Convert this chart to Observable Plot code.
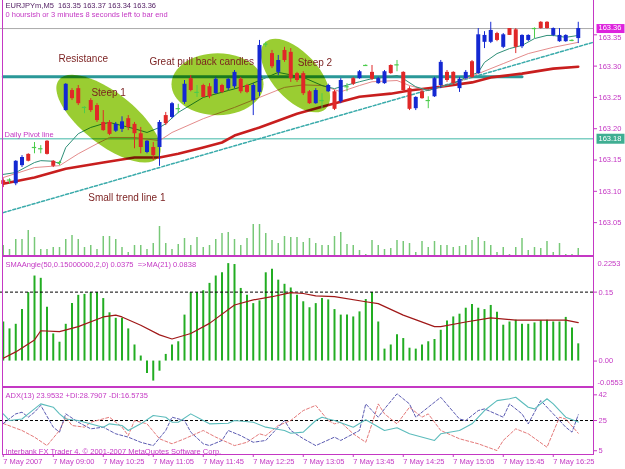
<!DOCTYPE html>
<html><head><meta charset="utf-8">
<script src="https://cdn.jsdelivr.net/npm/d3@7"></script>
<script src="https://cdn.jsdelivr.net/npm/@observablehq/plot@0.6"></script>
<style>
html,body{margin:0;padding:0;background:#fff;}
#chart{position:relative;width:625px;height:469px;overflow:hidden;}
#chart .layer{position:absolute;left:0;}
#chart .hl{position:absolute;background:#c438c4;}
</style></head><body><div id="chart"></div>
<script>
// ---------- DATA ----------
const opens  = [163.117,163.118,163.112,163.141,163.159,163.170,163.168,163.180,163.148,163.146,163.229,163.261,163.264,163.234,163.245,163.237,163.210,163.210,163.196,163.199,163.216,163.207,163.192,163.162,163.170,163.170,163.221,163.218,163.232,163.242,163.280,163.258,163.269,163.267,163.256,163.269,163.264,163.267,163.279,163.269,163.245,163.258,163.335,163.320,163.290,163.325,163.322,163.288,163.288,163.259,163.240,163.245,163.259,163.259,163.243,163.267,163.280,163.280,163.301,163.290,163.272,163.272,163.301,163.302,163.290,163.264,163.232,163.259,163.245,163.251,163.269,163.290,163.290,163.264,163.280,163.307,163.288,163.338,163.338,163.352,163.330,163.360,163.358,163.331,163.341,163.360,163.370,163.370,163.349,163.339,163.339,163.341,163.344];
const highs  = [163.120,163.120,163.149,163.157,163.160,163.178,163.173,163.181,163.149,163.148,163.272,163.264,163.269,163.235,163.248,163.240,163.229,163.213,163.210,163.219,163.221,163.210,163.202,163.181,163.178,163.213,163.226,163.242,163.239,163.277,163.285,163.269,163.271,163.272,163.282,163.271,163.280,163.293,163.282,163.271,163.272,163.341,163.338,163.325,163.317,163.330,163.328,163.290,163.291,163.261,163.264,163.256,163.271,163.261,163.280,163.272,163.282,163.293,163.302,163.301,163.282,163.293,163.302,163.309,163.291,163.267,163.251,163.261,163.251,163.282,163.309,163.293,163.291,163.282,163.293,163.309,163.360,163.355,163.370,163.354,163.352,163.360,163.360,163.350,163.350,163.361,163.371,163.371,163.361,163.360,163.350,163.342,163.370];
const lows   = [163.106,163.112,163.109,163.138,163.147,163.160,163.160,163.158,163.138,163.141,163.228,163.245,163.237,163.224,163.226,163.210,163.196,163.189,163.194,163.194,163.197,163.168,163.160,163.160,163.149,163.140,163.205,163.216,163.224,163.239,163.259,163.250,163.250,163.248,163.255,163.256,163.261,163.264,163.256,163.256,163.221,163.251,163.330,163.296,163.285,163.306,163.274,163.274,163.253,163.239,163.239,163.232,163.258,163.229,163.240,163.259,163.269,163.279,163.300,163.277,163.271,163.271,163.287,163.291,163.258,163.229,163.229,163.247,163.232,163.250,163.264,163.274,163.271,163.258,163.279,163.280,163.287,163.328,163.336,163.339,163.328,163.349,163.320,163.328,163.339,163.344,163.359,163.359,163.347,163.338,163.338,163.339,163.336];
const closes = [163.111,163.118,163.148,163.154,163.148,163.170,163.168,163.159,163.140,163.146,163.271,163.248,163.240,163.234,163.229,163.213,163.197,163.191,163.207,163.211,163.202,163.192,163.170,163.180,163.157,163.210,163.208,163.240,163.232,163.271,163.261,163.258,163.250,163.251,163.279,163.258,163.279,163.290,163.259,163.258,163.269,163.333,163.335,163.299,163.309,163.309,163.280,163.277,163.256,163.240,163.261,163.245,163.269,163.231,163.277,163.267,163.271,163.291,163.301,163.279,163.280,163.291,163.288,163.302,163.261,163.231,163.250,163.248,163.245,163.280,163.306,163.277,163.272,163.279,163.290,163.282,163.350,163.349,163.357,163.341,163.350,163.349,163.330,163.349,163.349,163.360,163.360,163.360,163.360,163.349,163.349,163.341,163.360];
const volumes = [10,6,16,16,25,18,6,6,8,8,16,20,16,8,10,6,19,19,16,8,3,10,10,6,12,29,12,6,11,17,10,18,8,10,16,22,23,16,10,17,31,31,22,15,12,19,18,18,13,17,12,10,10,19,23,11,10,5,1,15,10,6,7,15,14,12,3,14,8,14,10,10,8,9,10,15,18,14,10,3,8,1,8,17,5,8,7,14,3,12,1,1,7];
const maSlow = [[0,163.112],[5,163.122],[10,163.136],[16,163.146],[21,163.154],[25,163.154],[28,163.160],[32,163.170],[35,163.178],[37,163.189],[41,163.202],[47,163.224],[51,163.235],[54,163.243],[57,163.251],[62,163.256],[65,163.261],[70,163.267],[75,163.274],[78,163.282],[83,163.288],[88,163.296],[92,163.299]];
const maMid = [[0,163.122],[5,163.138],[9,163.141],[12,163.160],[15,163.176],[17,163.186],[21,163.186],[25,163.181],[27,163.194],[32,163.216],[37,163.234],[41,163.250],[45,163.266],[48,163.270],[51,163.269],[54,163.259],[57,163.269],[59,163.275],[63,163.277],[65,163.269],[68,163.261],[70,163.267],[72,163.272],[76,163.288],[80,163.304],[84,163.320],[88,163.330],[92,163.338]];
const maFast = [[0,163.127],[2,163.130],[5,163.146],[6,163.149],[8,163.148],[9,163.144],[10,163.170],[12,163.192],[14,163.202],[16,163.208],[17,163.210],[21,163.200],[23,163.194],[25,163.202],[26,163.208],[28,163.226],[32,163.250],[36,163.261],[39,163.269],[41,163.277],[44,163.290],[48,163.282],[51,163.269],[53,163.264],[54,163.267],[57,163.275],[59,163.280],[62,163.283],[63,163.285],[64,163.280],[66,163.267],[68,163.261],[70,163.267],[72,163.272],[74,163.282],[76,163.290],[77,163.306],[79,163.320],[81,163.328],[83,163.333],[85,163.344],[87,163.349],[88,163.349],[90,163.346],[92,163.349]];
const trendLine = [[0,163.066],[94.4,163.338]];
const resistance = [[0,163.283],[83,163.283]];
const pivot = 163.184;
const lastPrice = 163.36;
const priceTicks = [163.05,163.10,163.15,163.20,163.25,163.30];
const topPriceTick = 163.35;
const ellipses = [{i:16.84,p:163.216},{i:34.28,p:163.271},{i:46.76,p:163.285}];
const notes = [
  {i:8.84, p:163.312, t:"Resistance"},
  {i:14.1, p:163.258, t:"Steep 1"},
  {i:23.4, p:163.307, t:"Great pull back candles"},
  {i:47.1, p:163.306, t:"Steep 2"},
  {i:13.6, p:163.090, t:"Small trend line 1"}
];
const pivotNote = {i:0.2, p:163.191, t:"Daily Pivot line"};
const smaAngle = [.085,.070,.080,.112,.149,.185,.180,.117,.059,.041,.080,.125,.143,.145,.149,.149,.136,.105,.093,.093,.070,.035,.011,-.027,-.0435,-.022,.0145,.035,.042,.100,.149,.149,.153,.169,.185,.192,.212,.210,.158,.143,.125,.131,.192,.200,.176,.167,.159,.143,.129,.116,.125,.136,.133,.112,.100,.100,.096,.107,.134,.149,.085,.026,.035,.057,.049,.028,.026,.035,.042,.047,.067,.087,.096,.102,.115,.123,.115,.112,.121,.106,.078,.085,.089,.080,.080,.083,.088,.089,.085,.085,.095,.072,.0375];
const smaMA = [[0,.006],[2,.020],[5,.046],[6,.066],[9,.064],[12,.075],[16,.096],[18,.100],[19,.096],[22,.078],[25,.057],[27,.048],[30,.060],[33,.082],[37,.122],[40,.133],[43,.140],[46,.149],[48,.147],[50,.142],[53,.140],[58,.129],[60,.125],[64,.100],[69,.075],[70,.075],[74,.085],[78,.094],[82,.089],[90,.089],[92,.0838]];
const smaLevel = 0.15;
const smaTicks = [0.15, 0];
const adx = [[0,29.4],[1,25],[3,26],[4,29.4],[6,36],[8,33.8],[9,29.4],[10,26],[12,25],[13,23.9],[16,20.6],[17,22.8],[19,21.7],[20,18.4],[22,22.8],[24,28.3],[26,27.2],[27,23.9],[28,23.9],[30,29.4],[32,25],[33,22.8],[36,23.2],[37,25],[40,23.9],[42,20.6],[45,18.4],[46,16.6],[48,17.3],[50,25],[51,27.2],[52,26],[53,25],[56,20.6],[58,25.5],[61,18.4],[63,20.2],[65,16.2],[69,11.8],[70,16.2],[73,18.4],[75,22.8],[77,31.6],[79,38.2],[81,39.4],[82,40.4],[84,33.8],[85,32.7],[87,39.4],[88,36],[90,27.2],[92,23.95]];
const plusDI = [[0,23],[2,29.4],[3,30.5],[4,27.2],[5,30.5],[6,35],[8,20.6],[9,17.3],[10,29.4],[12,23.9],[14,19.5],[16,20.6],[18,16.2],[20,14],[22,10.6],[24,8.4],[26,18.4],[27,27.2],[29,25],[30,17.3],[32,9.6],[33,8.4],[35,11.8],[36,18.4],[38,15],[40,10.6],[42,11.8],[43,16.2],[45,25],[46,18.4],[48,13],[50,8.4],[53,14],[54,11.8],[57,18.4],[58,36],[60,27.2],[61,32.7],[63,42.7],[65,36],[66,27.2],[68,33.8],[70,40.4],[73,26],[74,25],[76,31.6],[77,32.7],[80,27.2],[81,36],[83,29.4],[84,22.8],[86,38.2],[88,29.4],[90,20.6],[91,17.3],[92,28.79]];
const minusDI = [[0,23],[3,18.4],[5,14],[7,8.4],[9,18.4],[10,27.2],[11,21.7],[13,20.6],[14,23.9],[17,27.2],[19,20.6],[20,15],[21,25],[23,22.8],[25,12.9],[27,9.6],[29,12.9],[32,18.4],[34,14],[37,8.4],[39,10.6],[41,16.2],[42,15],[44,21.7],[46,25],[48,31.6],[50,35],[52,25],[53,22.8],[54,23.9],[56,16.2],[58,10.6],[59,22.8],[60,36],[61,29.4],[63,22.8],[65,33.8],[67,27.2],[68,29.4],[70,18.4],[73,12.9],[76,9.6],[79,5.1],[80,11.8],[82,19.5],[84,16.2],[87,7.3],[89,27.2],[90,26],[92,16.57]];
const adxLevel = 25;
const adxTicks = [42, 25, 5];
const timeTickIdx = [0,8,16,24,32,40,48,56,64,72,80,88];
const timeTickLabels = ["7 May 2007","7 May 09:00","7 May 10:25","7 May 11:05","7 May 11:45","7 May 12:25","7 May 13:05","7 May 13:45","7 May 14:25","7 May 15:05","7 May 15:45","7 May 16:25"];
const header1 = "EURJPYm,M5  163.35 163.37 163.34 163.36";
const header2 = "0 hoursish or 3 minutes 8 seconds left to bar end";
const smaTitle = "SMAAngle(50,0.15000000,2,0) 0.0375  =>MA(21) 0.0838";
const adxTitle = "ADX(13) 23.9532 +DI:28.7907 -DI:16.5735";
const copyright = "Interbank FX Trader 4, \u00a9 2001-2007 MetaQuotes Software Corp.";

// ---------- STYLE ----------
const MAG = "#c438c4", BLUE = "#1428d2", RED = "#e02828", DOJI = "#4ccc4c";
const FONT = "'Liberation Sans', Arial, sans-serif";
const W = 625, MR = 32, xDomain = [-0.44, 94.44];
const baseStyle = {background: "none", overflow: "visible", color: MAG, fontFamily: FONT, fontSize: "7.5px"};
const chart = document.getElementById("chart");
function place(svg, top) { const d = document.createElement("div"); d.className = "layer"; d.style.top = top + "px"; d.appendChild(svg); chart.appendChild(d); }
function hline(top, left, width, h) { const d = document.createElement("div"); d.className = "hl"; Object.assign(d.style, {top: top+"px", left: left+"px", width: width+"px", height: h+"px"}); chart.appendChild(d); }
function ellipseSymbol(rx, ry, deg) {
  const a = deg * Math.PI / 180, c = Math.cos(a), s = Math.sin(a), k = 0.5523;
  const P = ([x, y]) => [x * c - y * s, x * s + y * c];
  const pts = [[rx,0],[rx,ry*k],[rx*k,ry],[0,ry],[-rx*k,ry],[-rx,ry*k],[-rx,0],[-rx,-ry*k],[-rx*k,-ry],[0,-ry],[rx*k,-ry],[rx,-ry*k],[rx,0]].map(P);
  return {draw(ctx) { ctx.moveTo(...pts[0]); for (let j = 1; j < 13; j += 3) ctx.bezierCurveTo(...pts[j], ...pts[j+1], ...pts[j+2]); ctx.closePath(); }};
}
function rectSymbol(w, h) { return {draw(ctx) { ctx.rect(-w/2, -h/2, w, h); }}; }
const ellShapes = [ellipseSymbol(63, 26, 38), ellipseSymbol(46, 31, 0), ellipseSymbol(45, 23, 48)];

const bars = opens.map((o, i) => ({i, o, h: highs[i], l: lows[i], c: closes[i]}));
const col = d => d.c > d.o ? BLUE : d.c < d.o ? RED : DOJI;
const bodies = bars.filter(d => d.c !== d.o);
const dojis = bars.filter(d => d.c === d.o);
const pt = a => a.map(([i, v]) => ({i, v}));

// ---------- VOLUME (under main) ----------
place(Plot.plot({
  width: W, height: 256, marginLeft: 0, marginRight: MR, marginTop: 0, marginBottom: 1,
  x: {domain: xDomain, axis: null}, y: {domain: [0, 255], axis: null}, style: baseStyle,
  marks: [Plot.ruleX(volumes.map((v, i) => ({i, v})), {x: "i", y1: 0, y2: "v", stroke: "#78c878", strokeWidth: 1.5})]
}), 0);

// ---------- MAIN ----------
place(Plot.plot({
  width: W, height: 256, marginLeft: 0, marginRight: MR, marginTop: 0, marginBottom: 0,
  x: {domain: xDomain, axis: null}, y: {domain: [162.9959, 163.4048], axis: null}, style: baseStyle,
  marks: [
    Plot.ruleY([lastPrice], {stroke: "#aaaaaa"}),
    Plot.ruleY([pivot], {stroke: "#7fcfc4", strokeWidth: 1.3}),
    Plot.line(pt(trendLine), {x: "i", y: "v", stroke: "#3aabab", strokeDasharray: "3,2"}),
    Plot.line(pt(resistance), {x: "i", y: "v", stroke: "#2a9898", strokeWidth: 3}),
    Plot.line(pt(maSlow), {x: "i", y: "v", stroke: "#c81e1e", strokeWidth: 2.6}),
    Plot.line(pt(maMid), {x: "i", y: "v", stroke: "#e48c8c", strokeWidth: 1}),
    Plot.line(pt(maFast), {x: "i", y: "v", stroke: "#2f8f78", strokeWidth: 1}),
    ...ellipses.map((e, k) => Plot.dot([e], {x: "i", y: "p", r: 10, symbol: ellShapes[k], fill: "#9acd32", stroke: "none", mixBlendMode: "multiply"})),
    Plot.ruleX(bars, {x: "i", y1: "l", y2: "h", stroke: col, strokeWidth: 1}),
    Plot.ruleX(bodies, {x: "i", y1: "o", y2: "c", stroke: col, strokeWidth: 4}),
    Plot.ruleY(dojis, {y: "o", x1: d => d.i - 0.35, x2: d => d.i + 0.35, stroke: DOJI, strokeWidth: 1.2}),
    Plot.text(notes, {x: "i", y: "p", text: "t", textAnchor: "start", fill: "#7a1f1f", fontSize: 10}),
    Plot.text([pivotNote], {x: "i", y: "p", text: "t", textAnchor: "start", fill: MAG, fontSize: 7.5}),
    Plot.text([header1], {frameAnchor: "top-left", dx: 5, dy: 2, text: d => d, fill: "#552266", fontSize: 7.5}),
    Plot.text([header2], {frameAnchor: "top-left", dx: 5, dy: 11, text: d => d, fill: MAG, fontSize: 7.5}),
    Plot.axisY(priceTicks, {anchor: "right", label: null, tickSize: 3, tickPadding: 2, tickFormat: d => d.toFixed(2), fontSize: 7.5}),
    Plot.axisY([topPriceTick], {anchor: "right", label: null, tickSize: 3, tickFormat: () => ""}),
    Plot.text([topPriceTick], {y: d => d, frameAnchor: "right", dx: 5, dy: 2.5, textAnchor: "start", text: d => d.toFixed(2), fill: MAG, fontSize: 7.5}),
    Plot.dot([lastPrice], {y: d => d, frameAnchor: "right", dx: 17, r: 5, symbol: rectSymbol(28, 9), fill: "#dd22dd", stroke: "none"}),
    Plot.text([lastPrice], {y: d => d, frameAnchor: "right", dx: 5, dy: -0.5, textAnchor: "start", text: d => d.toFixed(2), fill: "white", fontSize: 7.5}),
    Plot.dot([pivot], {y: d => d, frameAnchor: "right", dx: 17, r: 5, symbol: rectSymbol(28, 10), fill: "#3fae92", stroke: "none"}),
    Plot.text([pivot], {y: d => d, frameAnchor: "right", dx: 5, textAnchor: "start", text: d => d.toFixed(2), fill: "white", fontSize: 7.5})
  ]
}), 0);

// ---------- SMA ANGLE ----------
place(Plot.plot({
  width: W, height: 129, marginLeft: 0, marginRight: MR, marginTop: 0, marginBottom: 0,
  x: {domain: xDomain, axis: null}, y: {domain: [-0.0553, 0.2253], axis: null}, style: baseStyle,
  marks: [
    Plot.ruleX(smaAngle.map((v, i) => ({i, v})), {x: "i", y1: 0, y2: "v", stroke: "#22ad22", strokeWidth: 2}),
    Plot.ruleY([smaLevel], {stroke: "black", strokeDasharray: "3,2"}),
    Plot.line(pt(smaMA), {x: "i", y: "v", stroke: "#a01818", strokeWidth: 1.2}),
    Plot.text([smaTitle], {frameAnchor: "top-left", dx: 5, dy: 4, text: d => d, fill: MAG, fontSize: 7.5}),
    Plot.axisY(smaTicks, {anchor: "right", label: null, tickSize: 3, tickPadding: 2, tickFormat: d => d.toFixed(2), fontSize: 7.5}),
    Plot.text([0.2253], {y: d => d, frameAnchor: "right", dx: 4, dy: 6, textAnchor: "start", text: d => d.toFixed(4), fill: MAG, fontSize: 7.5}),
    Plot.text([-0.0553], {y: d => d, frameAnchor: "right", dx: 4, dy: -4, textAnchor: "start", text: d => d.toFixed(4), fill: MAG, fontSize: 7.5})
  ]
}), 257);

// ---------- ADX ----------
place(Plot.plot({
  width: W, height: 81, marginLeft: 0, marginRight: MR, marginTop: 0, marginBottom: 15,
  x: {domain: xDomain, axis: null}, y: {domain: [2.5, 46.2], axis: null}, style: baseStyle,
  marks: [
    Plot.ruleY([adxLevel], {stroke: "black", strokeDasharray: "3,2"}),
    Plot.line(pt(minusDI), {x: "i", y: "v", stroke: "#e06a6a", strokeWidth: 0.9, strokeDasharray: "3,2"}),
    Plot.line(pt(plusDI), {x: "i", y: "v", stroke: "#4848a8", strokeWidth: 0.9, strokeDasharray: "3,2"}),
    Plot.line(pt(adx), {x: "i", y: "v", stroke: "#5cbcbc", strokeWidth: 1.1}),
    Plot.text([adxTitle], {frameAnchor: "top-left", dx: 5, dy: 4, text: d => d, fill: MAG, fontSize: 7.5}),
    Plot.text([copyright], {frameAnchor: "bottom-left", dx: 5, dy: -1, text: d => d, fill: MAG, fontSize: 7.5}),
    Plot.axisY(adxTicks, {anchor: "right", label: null, tickSize: 3, tickPadding: 2, fontSize: 7.5}),
    Plot.axisX(timeTickIdx, {anchor: "bottom", label: null, tickSize: 3, tickPadding: 1, textAnchor: "start", fontSize: 7.5, tickFormat: d => timeTickLabels[timeTickIdx.indexOf(d)]})
  ]
}), 388);

// ---------- panel frame ----------
hline(0, 2, 1, 455);
hline(0, 593, 1, 455);
hline(255, 2, 592, 2);
hline(386, 2, 592, 2);
hline(454, 2, 592, 1);
</script></body></html>
